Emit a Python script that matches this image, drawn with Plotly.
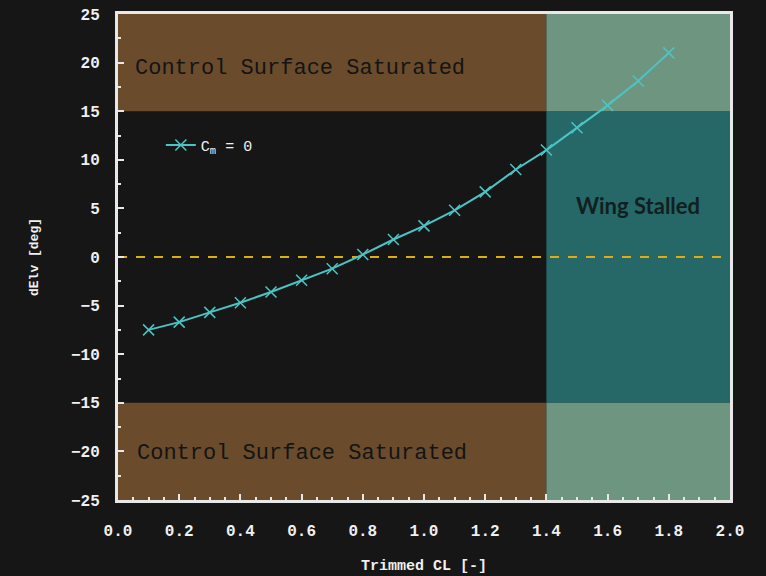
import plotly.graph_objects as go

cl = [0.1, 0.2, 0.3, 0.4, 0.5, 0.6, 0.7, 0.8, 0.9, 1.0, 1.1, 1.2, 1.3, 1.4, 1.5, 1.6, 1.7, 1.8]
delv = [-7.5, -6.7, -5.7, -4.7, -3.6, -2.4, -1.2, 0.25, 1.8, 3.2, 4.8, 6.7, 9.0, 11.0, 13.3, 15.6, 18.1, 21.0]
series_name = "C<sub>m</sub> = 0"
x_ticks = [0.0, 0.2, 0.4, 0.6, 0.8, 1.0, 1.2, 1.4, 1.6, 1.8, 2.0]
y_ticks = [-25, -20, -15, -10, -5, 0, 5, 10, 15, 20, 25]

x_min, x_max = 0.0, 2.0
y_min, y_max = -25, 25
stall_cl = 1.4
sat_up, sat_lo = 15, -15

BG = "#161616"
BROWN = "#6a4c2c"
TEAL = "#266868"
TEAL_LIGHT = "#6e9580"
LINE = "#4cc4c4"
GOLD = "#dcae10"
MONO = "Liberation Mono"

fig = go.Figure()

shapes = [
    dict(type="rect", x0=x_min, x1=stall_cl, y0=sat_up, y1=y_max, fillcolor=BROWN, line_width=0, layer="below"),
    dict(type="rect", x0=x_min, x1=stall_cl, y0=y_min, y1=sat_lo, fillcolor=BROWN, line_width=0, layer="below"),
    dict(type="rect", x0=stall_cl, x1=x_max, y0=sat_lo, y1=sat_up, fillcolor=TEAL, line_width=0, layer="below"),
    dict(type="rect", x0=stall_cl, x1=x_max, y0=sat_up, y1=y_max, fillcolor=TEAL_LIGHT, line_width=0, layer="below"),
    dict(type="rect", x0=stall_cl, x1=x_max, y0=y_min, y1=sat_lo, fillcolor=TEAL_LIGHT, line_width=0, layer="below"),
    dict(type="line", x0=x_min, x1=x_max, y0=0, y1=0, line=dict(color=GOLD, width=2, dash="dash"), layer="below"),
]

fig.add_trace(go.Scatter(
    x=cl, y=delv, mode="lines+markers", name=series_name,
    line=dict(color=LINE, width=2),
    marker=dict(symbol="x-thin", size=11, line=dict(color=LINE, width=1.5)),
))

annotations = [
    dict(x=0.05, y=19.4, xref="x", yref="y", text="Control Surface Saturated", showarrow=False,
         xanchor="left", font=dict(family=MONO, size=22, color="#141414")),
    dict(x=0.055, y=-20.2, xref="x", yref="y", text="Control Surface Saturated", showarrow=False,
         xanchor="left", font=dict(family=MONO, size=22, color="#141414")),
    dict(x=1.7, y=5.3, xref="x", yref="y", text="<b>Wing Stalled</b>", showarrow=False,
         font=dict(family="Lato", size=22, color="#102020")),
]

axis_common = dict(
    showline=True, linecolor="#e8e8e8", linewidth=3, mirror=True,
    ticks="inside", ticklen=6, tickcolor="#e8e8e8", tickwidth=2,
    showgrid=False, zeroline=False, automargin=False,
    tickfont=dict(family=MONO, size=16, color="#f0f0f0"),
)

fig.update_layout(
    width=766, height=576,
    margin=dict(l=118, r=36, t=14, b=76),
    paper_bgcolor=BG, plot_bgcolor=BG,
    shapes=shapes, annotations=annotations,
    showlegend=True,
    legend=dict(x=0.07, y=0.73, xanchor="left", yanchor="middle", bgcolor="rgba(0,0,0,0)",
                font=dict(family=MONO, size=15, color="#f0f0f0")),
    xaxis=dict(range=[x_min, x_max], tickvals=x_ticks, ticktext=[f"<b>{v:.1f}</b>" for v in x_ticks],
               ticklabelstandoff=14,
               minor=dict(ticks="inside", ticklen=3, dtick=0.05, tickcolor="#e8e8e8", tickwidth=1.5),
               title=dict(text="<b>Trimmed CL [-]</b>", font=dict(family=MONO, size=15, color="#f0f0f0"), standoff=20),
               **axis_common),
    yaxis=dict(range=[y_min, y_max], tickvals=y_ticks, ticktext=["<b>" + str(v).replace("-", "\u2212") + "</b>" for v in y_ticks],
               ticklabelstandoff=12,
               minor=dict(ticks="inside", ticklen=3, dtick=2.5, tickcolor="#e8e8e8", tickwidth=1.5),
               title=dict(text="<b>dElv [deg]</b>", font=dict(family=MONO, size=13, color="#f0f0f0"), standoff=30),
               **axis_common),
)

fig.write_html("out.html")
